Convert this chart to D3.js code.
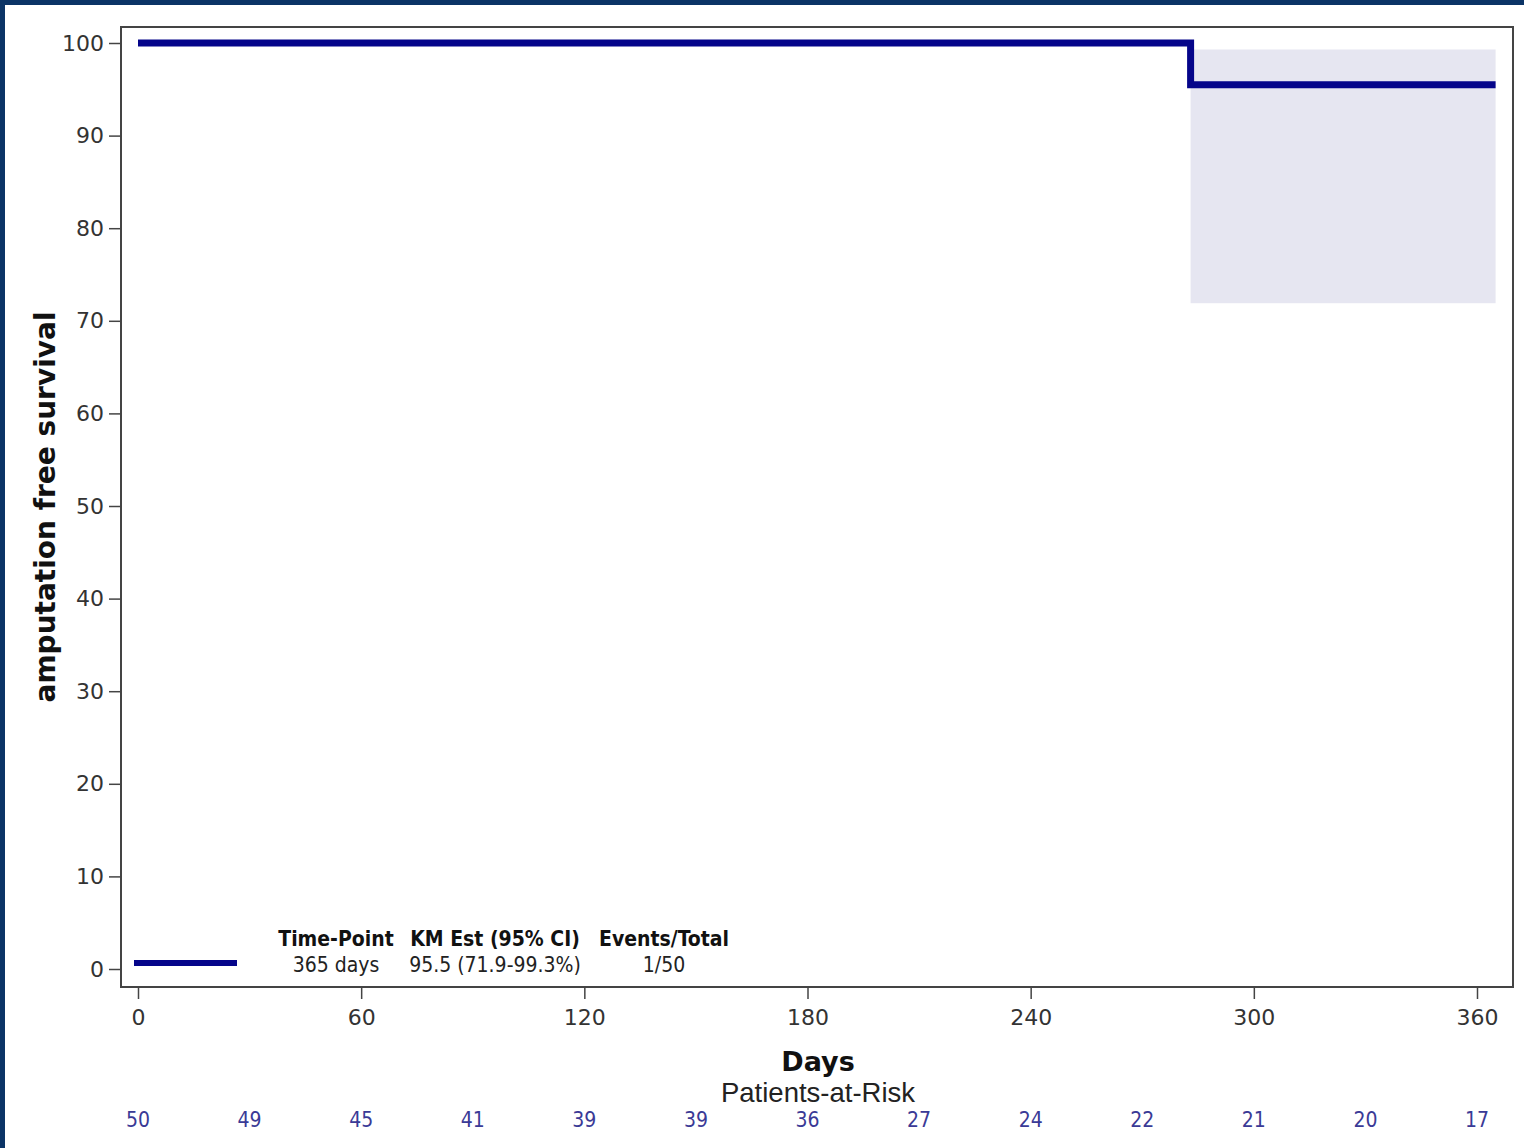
<!DOCTYPE html>
<html>
<head>
<meta charset="utf-8">
<script src="https://cdn.jsdelivr.net/npm/d3@7"></script>
<style>
  body { margin: 0; background: #0b3466; }
  svg { display: block; }
</style>
</head>
<body>
<script>
// KM curve, amputation free survival
var stepDays = [0, 283, 365];
var survival = [100, 95.5, 95.5];
var ciDays = [283, 365];
var ciLow = 71.9, ciHigh = 99.3;

var yTicks = [0, 10, 20, 30, 40, 50, 60, 70, 80, 90, 100];
var xTicks = [0, 60, 120, 180, 240, 300, 360];
var riskDays = [0, 30, 60, 90, 120, 150, 180, 210, 240, 270, 300, 330, 360];
var atRisk = [50, 49, 45, 41, 39, 39, 36, 27, 24, 22, 21, 20, 17];

var legendHead = ["Time-Point", "KM Est (95% CI)", "Events/Total"];
var legendRow = ["365 days", "95.5 (71.9-99.3%)", "1/50"];

var width = 1524, height = 1148;
var box = {left: 121, top: 27, right: 1513, bottom: 987};

var svg = d3.select("body").append("svg")
    .attr("width", width)
    .attr("height", height);

// white page inside the navy frame
svg.append("rect").attr("x", 5).attr("y", 5).attr("width", width - 5).attr("height", height - 5).attr("fill", "#fff");

var x = d3.scaleLinear().domain([0, 360]).range([138, 1477]);
var y = d3.scaleLinear().domain([0, 100]).range([969, 43]);

var lineColor = "#05058a";

// confidence band
svg.append("rect")
    .attr("x", x(ciDays[0]))
    .attr("y", y(ciHigh))
    .attr("width", x(ciDays[1]) - x(ciDays[0]))
    .attr("height", y(ciLow) - y(ciHigh))
    .attr("fill", "#e6e6f1");

// step line
var pts = stepDays.map(function(d, i) { return [x(d), y(survival[i])]; });
svg.append("path")
    .attr("d", d3.line().curve(d3.curveStepAfter)(pts))
    .attr("fill", "none")
    .attr("stroke", lineColor)
    .attr("stroke-width", 7);

// plot frame
svg.append("rect")
    .attr("x", box.left).attr("y", box.top)
    .attr("width", box.right - box.left).attr("height", box.bottom - box.top)
    .attr("fill", "none").attr("stroke", "#444").attr("stroke-width", 2);

// y axis
var yAxis = svg.append("g")
    .attr("transform", "translate(" + box.left + ",0)")
    .call(d3.axisLeft(y).tickValues(yTicks).tickSize(12).tickPadding(5));
yAxis.select(".domain").remove();
yAxis.selectAll("line").attr("stroke", "#444").attr("stroke-width", 1.5);
yAxis.selectAll("text").attr("font-family", "DejaVu Sans").attr("font-size", 22).attr("fill", "#333");

// x axis
var xAxis = svg.append("g")
    .attr("transform", "translate(0," + box.bottom + ")")
    .call(d3.axisBottom(x).tickValues(xTicks).tickSize(12).tickPadding(10));
xAxis.select(".domain").remove();
xAxis.selectAll("line").attr("stroke", "#444").attr("stroke-width", 1.5);
xAxis.selectAll("text").attr("font-family", "DejaVu Sans").attr("font-size", 22).attr("fill", "#333");

// axis titles
svg.append("text")
    .attr("transform", "translate(55,507) rotate(-90)")
    .attr("text-anchor", "middle")
    .attr("font-family", "DejaVu Sans").attr("font-weight", "bold").attr("font-size", 28)
    .attr("fill", "#111")
    .text("amputation free survival");

svg.append("text")
    .attr("x", 818).attr("y", 1071)
    .attr("text-anchor", "middle")
    .attr("font-family", "DejaVu Sans").attr("font-weight", "bold").attr("font-size", 27)
    .attr("fill", "#111")
    .text("Days");

svg.append("text")
    .attr("x", 818).attr("y", 1102)
    .attr("text-anchor", "middle")
    .attr("font-family", "Liberation Sans, Arial").attr("font-size", 27.5)
    .attr("fill", "#222")
    .text("Patients-at-Risk");

// numbers at risk
svg.selectAll(".risk")
    .data(atRisk)
  .enter().append("text")
    .attr("class", "risk")
    .attr("x", function(d, i) { return x(riskDays[i]); })
    .attr("y", 1127)
    .attr("text-anchor", "middle")
    .attr("font-family", "DejaVu Sans Condensed, DejaVu Sans").attr("font-size", 21)
    .attr("fill", "#3a3a96")
    .text(function(d) { return d; });

// inset legend
svg.append("line")
    .attr("x1", 134).attr("x2", 237).attr("y1", 963).attr("y2", 963)
    .attr("stroke", lineColor).attr("stroke-width", 6);

var colX = [336, 495, 664];
svg.selectAll(".lhead")
    .data(legendHead)
  .enter().append("text")
    .attr("class", "lhead")
    .attr("x", function(d, i) { return colX[i]; })
    .attr("y", 946)
    .attr("text-anchor", "middle")
    .attr("font-family", "DejaVu Sans Condensed, DejaVu Sans").attr("font-weight", "bold").attr("font-size", 21)
    .attr("fill", "#111")
    .text(function(d) { return d; });

svg.selectAll(".lrow")
    .data(legendRow)
  .enter().append("text")
    .attr("class", "lrow")
    .attr("x", function(d, i) { return colX[i]; })
    .attr("y", 972)
    .attr("text-anchor", "middle")
    .attr("font-family", "DejaVu Sans Condensed, DejaVu Sans").attr("font-size", 21)
    .attr("fill", "#222")
    .text(function(d) { return d; });
</script>
</body>
</html>
